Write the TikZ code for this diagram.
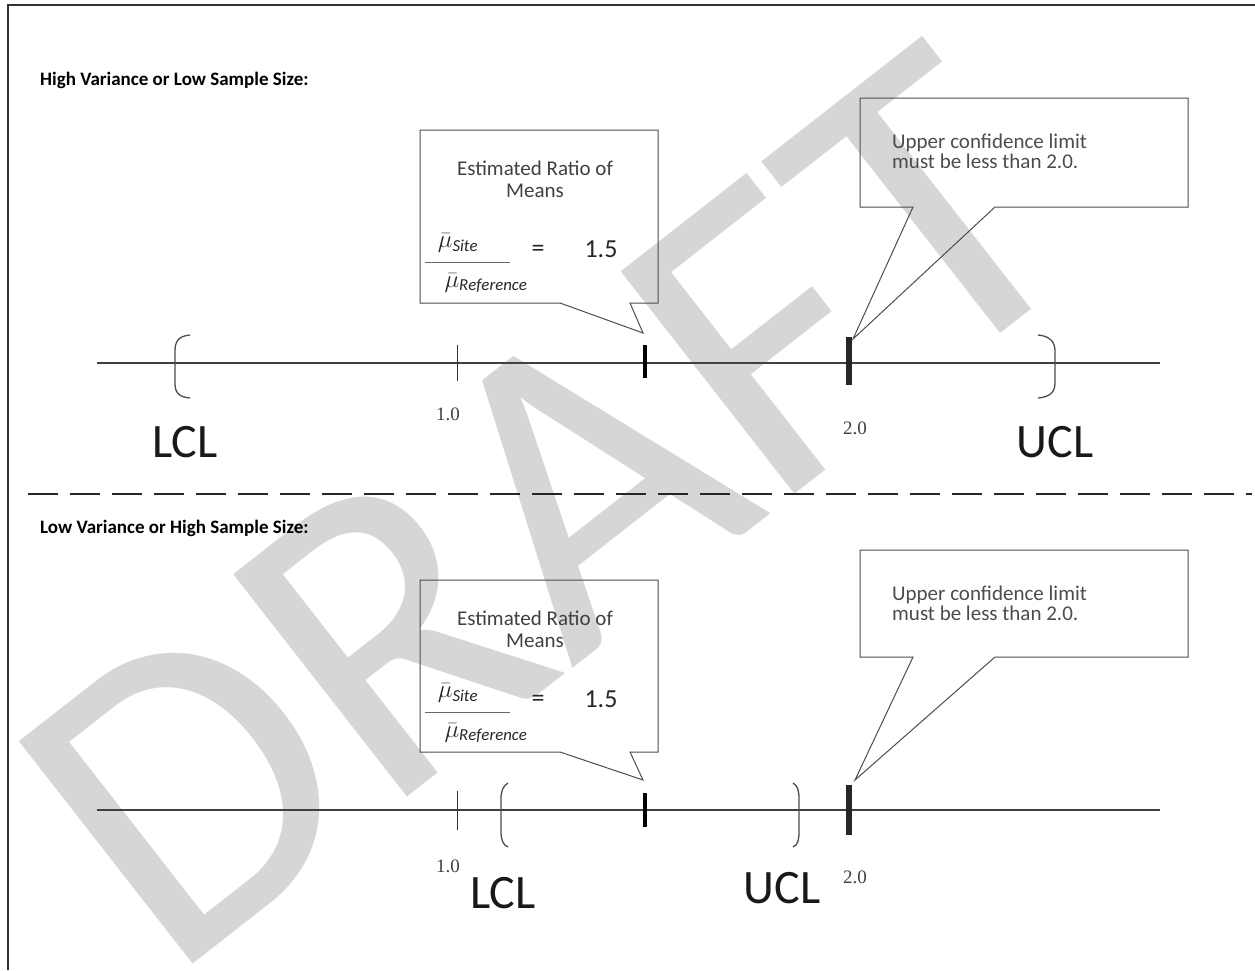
\documentclass[tikz,border=0pt]{standalone}
\usepackage{fontspec}
\setmainfont{Carlito}
\newfontfamily\numserif{Liberation Serif}
\begin{document}
\begin{tikzpicture}[x=1pt,y=-1pt,
  frame/.style={line width=1.5pt, draw=black!80},
  numline/.style={line width=1.3pt, draw=black!75},
  divider/.style={line width=2.6pt, draw=black!85, dash pattern=on 30pt off 12pt},
  callout/.style={line width=1pt, draw=black!70, line join=miter},
  brk/.style={line width=1.3pt, draw=black!70},
  thintick/.style={line width=1pt, draw=black!80},
  midtick/.style={line width=3.5pt, draw=black},
  bigtick/.style={line width=6pt, draw=black!85},
  heading/.style={anchor=west, font=\fontsize{19}{22}\selectfont\bfseries, inner sep=0},
  limlabel/.style={font=\fontsize{48}{50}\selectfont, inner sep=0, text=black!90},
  ticklabel/.style={font=\numserif\fontsize{19}{21}\selectfont, text=black!75, inner sep=0},
  calltext/.style={font=\fontsize{21}{20}\selectfont, text=black!70, align=left, anchor=north west, inner sep=0},
  ratiotext/.style={font=\fontsize{21}{22}\selectfont, text=black!75, align=center, inner sep=0},
  mathtext/.style={font=\fontsize{24}{26}\selectfont, text=black!85, inner sep=0},
  valtext/.style={font=\fontsize{26}{28}\selectfont, text=black!85, inner sep=0},
  watermark/.style={rotate=38, text=black!16, font=\fontsize{440}{440}\selectfont, inner sep=0},
]
\useasboundingbox (0,0) rectangle (1255,970);

% watermark
\node[watermark] (wm) at (548,508) {DRAFT};

% frame
\draw[frame] (8,970) -- (8,5) -- (1255,5);

% ===================== TOP PANEL =====================
\node[heading] (h1) at (40,80) {High Variance or Low Sample Size:};

\coordinate (tL) at (97,363);
\coordinate (tR) at (1160,363);
\draw[numline] (tL) -- (tR);

\draw[thintick] (457,345) -- (457,381);
\draw[midtick] (645,345) -- (645,378);
\draw[bigtick] (849,337) -- (849,385);

\draw[brk] (190,335) .. controls (178,336) and (175,342) .. (175,351) -- (175,383) .. controls (175,392) and (178,397) .. (190,398);
\draw[brk] (1038,335) .. controls (1050,336) and (1055,342) .. (1055,351) -- (1055,383) .. controls (1055,392) and (1050,397) .. (1038,398);

\node[ticklabel] (t1a) at (448,414) {1.0};
\node[ticklabel] (t2a) at (855,428) {2.0};
\node[limlabel] (lcla) at (185,442) {LCL};
\node[limlabel] (ucla) at (1055,442) {UCL};

\coordinate (ra) at (643,333);
\draw[callout] (420,130) -- (658,130) -- (658,303) -- (630,303) -- (ra) -- (560,303) -- (420,303) -- cycle;
\node[ratiotext] (rta) at (535,179) {Estimated Ratio of\\Means};
\node[mathtext] (numa) at (458,243) {$\bar{\mu}_{\mathit{Site}}$};
\draw[line width=0.8pt, draw=black!60] (425,262) -- (510,262);
\node[mathtext] (dena) at (486,283) {$\bar{\mu}_{\mathit{Reference}}$};
\node[valtext] (eqa) at (538,251) {=};
\node[valtext] (va) at (601,249) {1.5};

\coordinate (ua) at (853,339);
\draw[callout] (860,98) -- (1188,98) -- (1188,207) -- (995,207) -- (ua) -- (913,207) -- (860,207) -- cycle;
\node[calltext] (uta) at (892,134) {Upper confidence limit\\must be less than 2.0.};

\draw[divider] (28,494) -- (1252,494);

% ===================== BOTTOM PANEL =====================
\node[heading] (h2) at (40,528) {Low Variance or High Sample Size:};

\coordinate (bL) at (97,810);
\coordinate (bR) at (1160,810);
\draw[numline] (bL) -- (bR);

\draw[thintick] (457,791) -- (457,830);
\draw[midtick] (645,793) -- (645,827);
\draw[bigtick] (849,785) -- (849,835);

\draw[brk] (508,783) .. controls (503,786) and (501,791) .. (501,799) -- (501,831) .. controls (501,840) and (503,845) .. (508,847);
\draw[brk] (793,783) .. controls (798,786) and (799,791) .. (799,799) -- (799,831) .. controls (799,840) and (798,845) .. (793,847);

\node[ticklabel] (t1b) at (448,866) {1.0};
\node[ticklabel] (t2b) at (855,877) {2.0};
\node[limlabel] (lclb) at (503,893) {LCL};
\node[limlabel] (uclb) at (782,888) {UCL};

\coordinate (rb) at (643,780);
\draw[callout] (420,580) -- (658,580) -- (658,752) -- (630,752) -- (rb) -- (560,752) -- (420,752) -- cycle;
\node[ratiotext] (rtb) at (535,629) {Estimated Ratio of\\Means};
\node[mathtext] (numb) at (458,693) {$\bar{\mu}_{\mathit{Site}}$};
\draw[line width=0.8pt, draw=black!60] (425,712) -- (510,712);
\node[mathtext] (denb) at (486,733) {$\bar{\mu}_{\mathit{Reference}}$};
\node[valtext] (eqb) at (538,701) {=};
\node[valtext] (vb) at (601,699) {1.5};

\coordinate (ub) at (855,780);
\draw[callout] (860,550) -- (1188,550) -- (1188,657) -- (995,657) -- (ub) -- (913,657) -- (860,657) -- cycle;
\node[calltext] (utb) at (892,586) {Upper confidence limit\\must be less than 2.0.};
\end{tikzpicture}
\end{document}
